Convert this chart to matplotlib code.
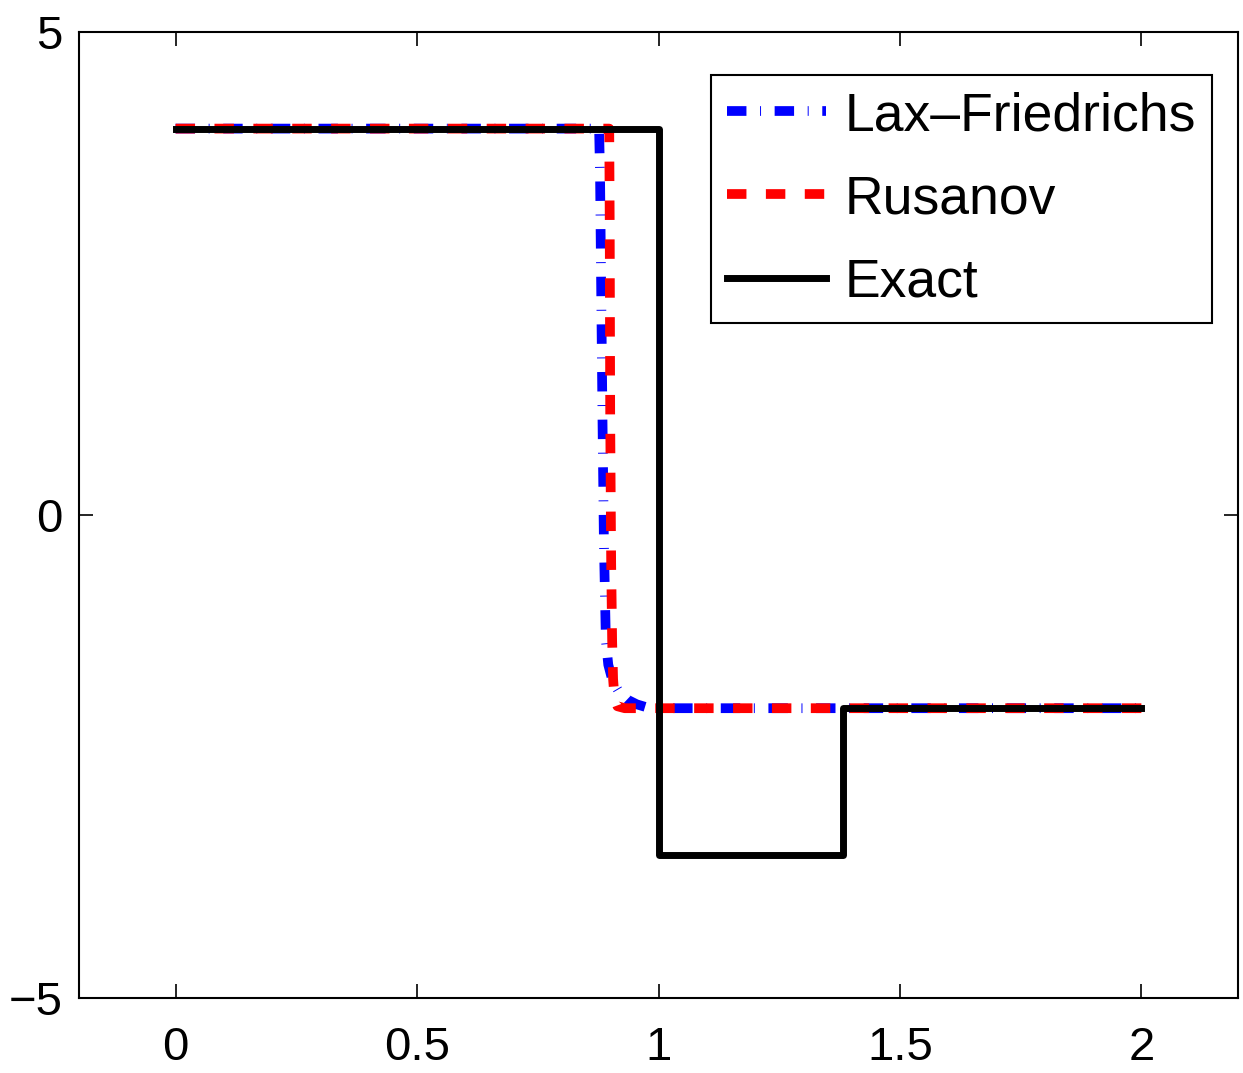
import matplotlib
matplotlib.use('Agg')
import matplotlib.pyplot as plt

plt.rcParams['font.family'] = ['Liberation Sans', 'DejaVu Sans']

# exact solution
x_exact = [0.0, 1.0, 1.0, 1.382, 1.382, 2.0]
u_exact = [4.0, 4.0, -3.52, -3.52, -2.0, -2.0]

# Lax-Friedrichs
x_lf = [0.0, 0.877, 0.879, 0.881, 0.884, 0.887, 0.891, 0.896, 0.905, 0.918, 0.935, 0.955, 0.975, 1.0, 2.0]
u_lf = [4.0, 4.0, 3.5, 2.5, 1.0, -0.3, -1.3, -1.55, -1.72, -1.83, -1.91, -1.96, -1.99, -2.0, -2.0]

# Rusanov
x_rus = [0.0, 0.898, 0.899, 0.900, 0.902, 0.904, 0.906, 0.909, 0.915, 0.93, 2.0]
u_rus = [4.0, 4.0, 3.0, 1.0, -0.5, -1.3, -1.7, -1.9, -1.98, -2.0, -2.0]

fig = plt.figure(figsize=(12.43, 10.73), dpi=100)
ax = fig.add_axes([79/1243, 75/1073, 1159/1243, 966/1073])

ax.plot(x_lf, u_lf, color='blue', lw=7, dashes=(2, 1.4, 0.1, 1.4), label='Lax\u2013Friedrichs')
ax.plot(x_rus, u_rus, color='red', lw=7, dashes=(2, 2), label='Rusanov')
ax.plot(x_exact, u_exact, color='black', lw=5, label='Exact')

ax.set_xlim(-0.2, 2.2)
ax.set_ylim(-5, 5)
ax.set_xticks([0, 0.5, 1, 1.5, 2])
ax.set_xticklabels(['0', '0.5', '1', '1.5', '2'])
ax.set_yticks([-5, 0, 5])
ax.tick_params(direction='in', length=10, width=1.2, top=True, right=True, labelsize=34)
ax.tick_params(axis='x', pad=20)
ax.tick_params(axis='y', pad=12)
for s in ax.spines.values():
    s.set_linewidth(1.5)

leg = ax.legend(loc='upper left', bbox_to_anchor=((711-79)/1159, (998-75)/966), borderaxespad=0,
                fontsize=38.5, handlelength=1.85, handletextpad=0.35, borderpad=0.3, labelspacing=0.62,
                fancybox=False, framealpha=1, edgecolor='black')
leg.get_frame().set_linewidth(1.5)
# a bit more room above the first row, as in the original box
leg._legend_box.align = 'baseline'

fig.savefig('out.png', dpi=100)
